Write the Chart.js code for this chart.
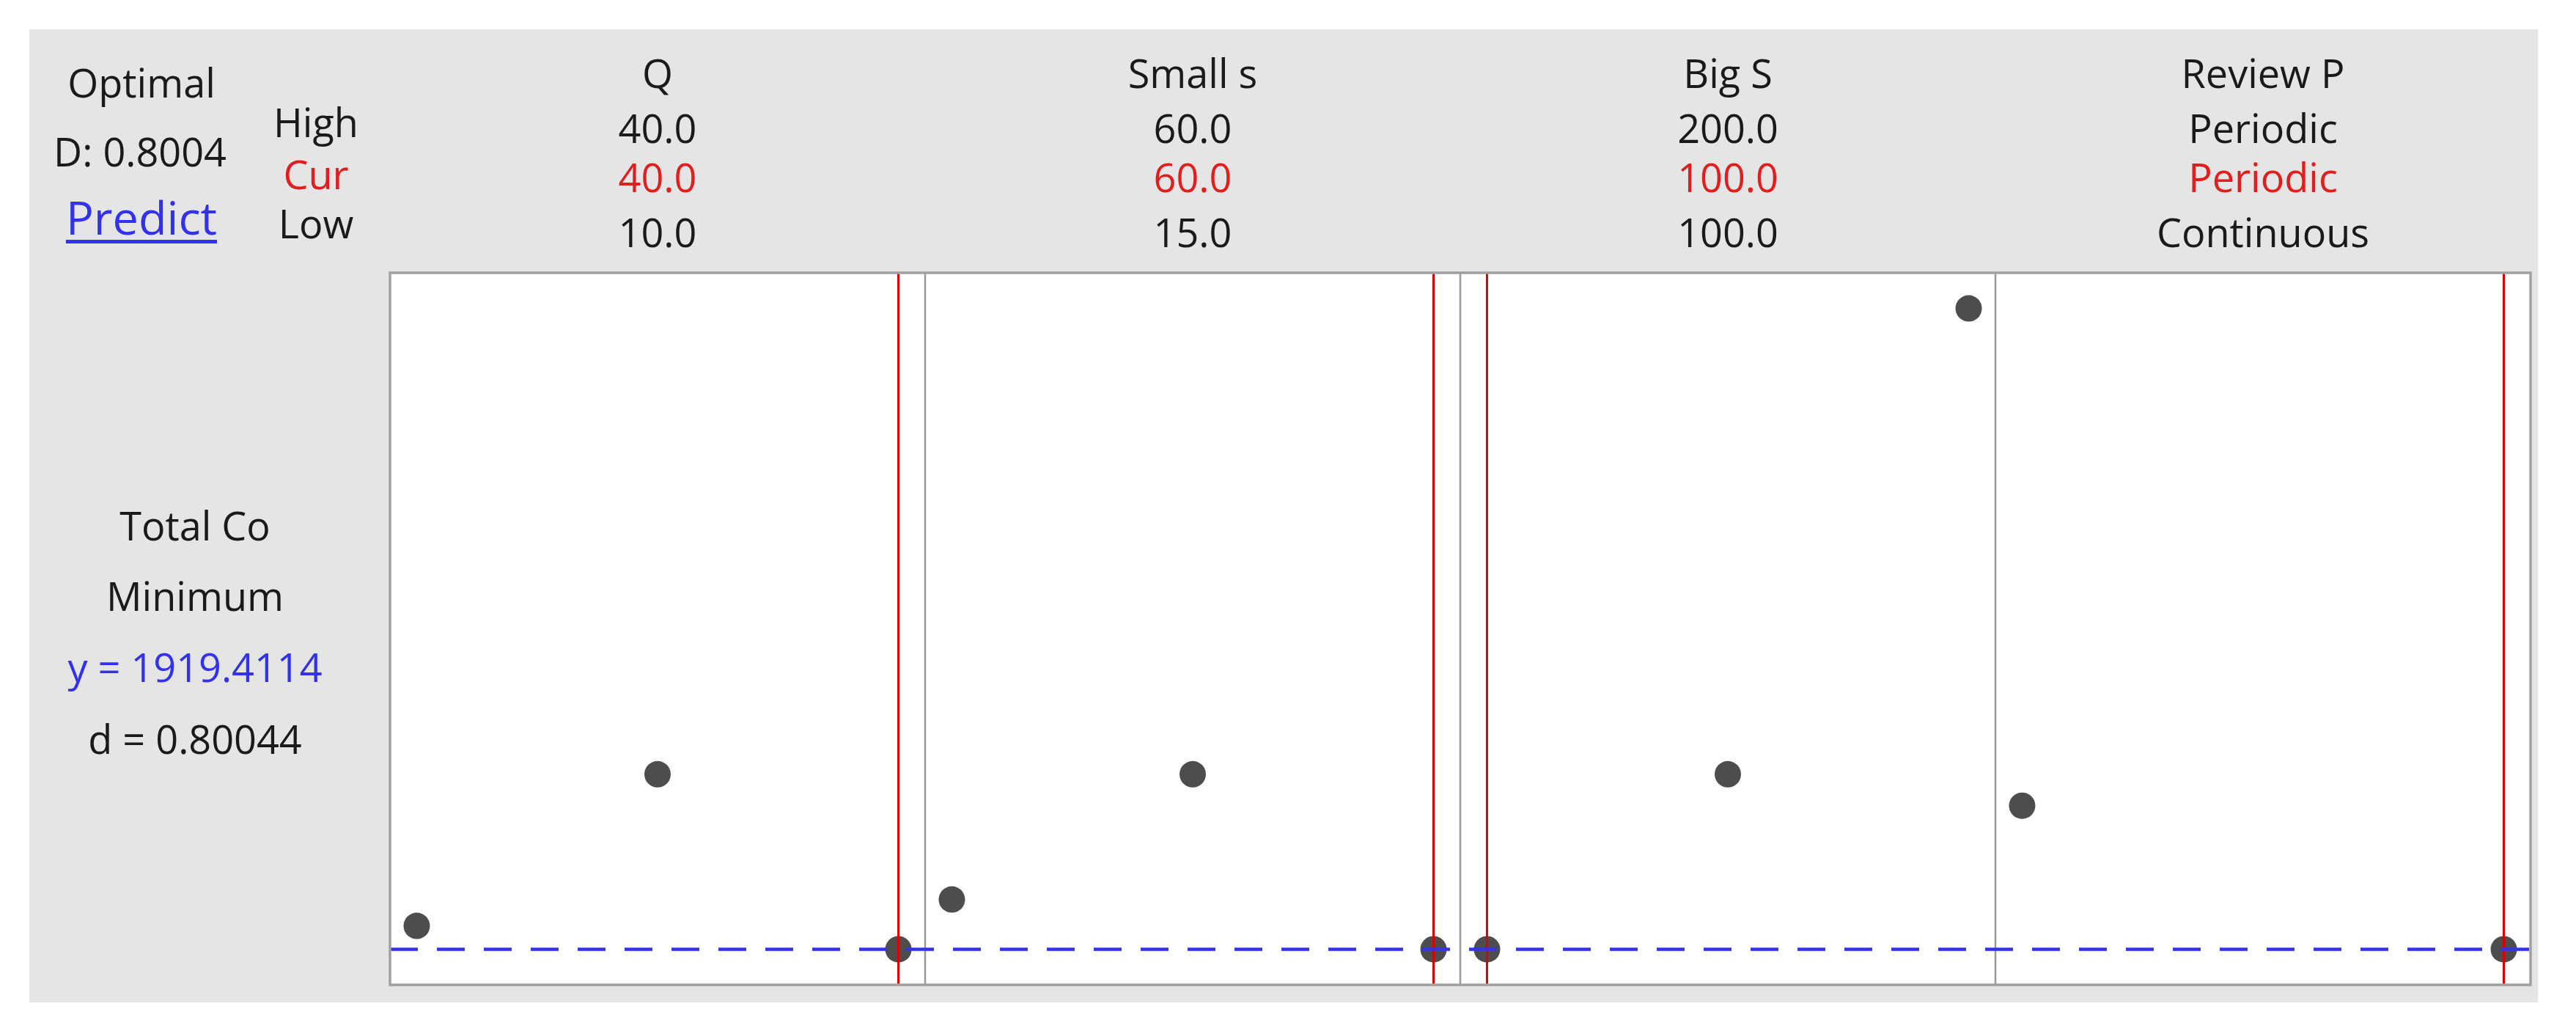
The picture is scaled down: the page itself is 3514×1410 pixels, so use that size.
<!DOCTYPE html>
<html>
<head>
<meta charset="utf-8">
<script src="https://cdn.jsdelivr.net/npm/chart.js@4.4.0/dist/chart.umd.min.js"></script>
<style>
  body { margin: 0; background: #fff; }
  #wrap { width: 3514px; height: 1410px; }
</style>
</head>
<body>
<div id="wrap"><canvas id="opt-plot"></canvas></div>
<script>
// header text of the optimization plot
const factorNames = ["Q", "Small s", "Big S", "Review P"];
const highLabels = ["40.0", "60.0", "200.0", "Periodic"];
const curLabels = ["40.0", "60.0", "100.0", "Periodic"];
const lowLabels = ["10.0", "15.0", "100.0", "Continuous"];

// Total Cost at each factor setting
const qLevels = [10, 25, 40];
const qCost = [1946.1, 2118.9, 1919.4];
const smallSLevels = [15, 37.5, 60];
const smallSCost = [1976.2, 2118.9, 1919.4];
const bigSLevels = [100, 150, 200];
const bigSCost = [1919.4, 2118.9, 2650.0];
const reviewLevels = ["Continuous", "Periodic"];
const reviewCost = [2083.1, 1919.4];

// factor ranges and current settings (Review P as index into reviewLevels)
const lowValues = [10, 15, 100, 0];
const highValues = [40, 60, 200, 1];
const curValues = [40, 60, 100, 1];
const optimalY = 1919.4114;

const pad = 0.0555;
const xIds = ['x0', 'x1', 'x2', 'x3'];

function toPoints(levels, cost) {
  return levels.map((v, i) => ({
    x: typeof v === 'string' ? reviewLevels.indexOf(v) : v,
    y: cost[i]
  }));
}

const allCost = qCost.concat(smallSCost, bigSCost, reviewCost);
const yLo = Math.min(...allCost), yHi = Math.max(...allCost);

const scales = {
  y: {
    type: 'linear', display: false,
    min: yLo - pad * (yHi - yLo),
    max: yHi + pad * (yHi - yLo)
  }
};
xIds.forEach((id, i) => {
  const span = highValues[i] - lowValues[i];
  scales[id] = {
    type: 'linear', position: 'bottom', display: false,
    stack: 'panels', stackWeight: 1,
    min: lowValues[i] - pad * span,
    max: highValues[i] + pad * span
  };
});

const datasets = [
  { data: toPoints(qLevels, qCost), xAxisID: 'x0' },
  { data: toPoints(smallSLevels, smallSCost), xAxisID: 'x1' },
  { data: toPoints(bigSLevels, bigSCost), xAxisID: 'x2' },
  { data: toPoints(reviewLevels, reviewCost), xAxisID: 'x3' }
].map(d => Object.assign(d, {
  yAxisID: 'y',
  pointRadius: 18,
  pointBackgroundColor: '#4d4d4d',
  pointBorderWidth: 0,
  showLine: false
}));

const BLACK = '#1a1a1a', RED = '#e01e1e', BLUE = '#3232ee';

function txt(ctx, s, x, y, color, size, underline) {
  ctx.font = (size || 54) + 'px "Open Sans"';
  ctx.fillStyle = color;
  ctx.textAlign = 'center';
  ctx.textBaseline = 'alphabetic';
  ctx.fillText(s, x, y);
  if (underline) {
    const w = ctx.measureText(s).width;
    ctx.fillRect(x - w / 2, y + 7, w, 5);
  }
}

const panelPlugin = {
  id: 'panelPlugin',
  beforeDraw(chart) {
    const { ctx, chartArea: a } = chart;
    ctx.save();
    ctx.fillStyle = '#ffffff';
    ctx.fillRect(0, 0, chart.width, chart.height);
    ctx.fillStyle = '#e5e5e5';
    ctx.fillRect(40, 40, 3422, 1327);
    ctx.fillStyle = '#ffffff';
    ctx.fillRect(a.left, a.top, a.right - a.left, a.bottom - a.top);
    ctx.restore();
  },
  afterDatasetsDraw(chart) {
    const { ctx, chartArea: a } = chart;
    const yScale = chart.scales.y;
    ctx.save();

    // panel dividers
    ctx.strokeStyle = '#9a9a9a';
    ctx.lineWidth = 2.5;
    xIds.slice(1).forEach(id => {
      const s = chart.scales[id];
      ctx.beginPath();
      ctx.moveTo(s.left, a.top);
      ctx.lineTo(s.left, a.bottom);
      ctx.stroke();
    });

    // current settings
    ctx.strokeStyle = '#dd0000';
    ctx.lineWidth = 3;
    xIds.forEach((id, i) => {
      const px = chart.scales[id].getPixelForValue(curValues[i]);
      ctx.beginPath();
      ctx.moveTo(px, a.top);
      ctx.lineTo(px, a.bottom);
      ctx.stroke();
    });

    // optimal response
    const py = yScale.getPixelForValue(optimalY);
    ctx.strokeStyle = '#3333ee';
    ctx.lineWidth = 4.5;
    ctx.setLineDash([38, 26]);
    ctx.beginPath();
    ctx.moveTo(a.left, py);
    ctx.lineTo(a.right, py);
    ctx.stroke();
    ctx.setLineDash([]);

    // frame
    ctx.strokeStyle = '#a0a0a0';
    ctx.lineWidth = 3.5;
    ctx.strokeRect(a.left, a.top, a.right - a.left, a.bottom - a.top);

    // header per panel
    xIds.forEach((id, i) => {
      const s = chart.scales[id];
      const cx = (s.left + s.right) / 2;
      txt(ctx, factorNames[i], cx, 120, BLACK);
      txt(ctx, highLabels[i], cx, 195, BLACK);
      txt(ctx, curLabels[i], cx, 262, RED);
      txt(ctx, lowLabels[i], cx, 337, BLACK);
    });

    // left block
    txt(ctx, 'Optimal', 193, 133, BLACK);
    txt(ctx, 'D: 0.8004', 191, 227, BLACK);
    txt(ctx, 'Predict', 193, 320, BLUE, 63, true);
    txt(ctx, 'High', 431, 187, BLACK);
    txt(ctx, 'Cur', 431, 258, RED);
    txt(ctx, 'Low', 431, 325, BLACK);

    txt(ctx, 'Total Co', 266, 737, BLACK);
    txt(ctx, 'Minimum', 266, 833, BLACK);
    txt(ctx, 'y = 1919.4114', 266, 930, BLUE);
    txt(ctx, 'd = 0.80044', 266, 1028, BLACK);

    ctx.restore();
  }
};

new Chart(document.getElementById('opt-plot'), {
  type: 'scatter',
  data: { datasets: datasets },
  options: {
    responsive: true,
    maintainAspectRatio: false,
    animation: false,
    layout: { padding: { left: 532, top: 372, right: 62, bottom: 67 } },
    plugins: {
      legend: { display: false },
      tooltip: { enabled: false }
    },
    scales: scales
  },
  plugins: [panelPlugin]
});
</script>
</body>
</html>
